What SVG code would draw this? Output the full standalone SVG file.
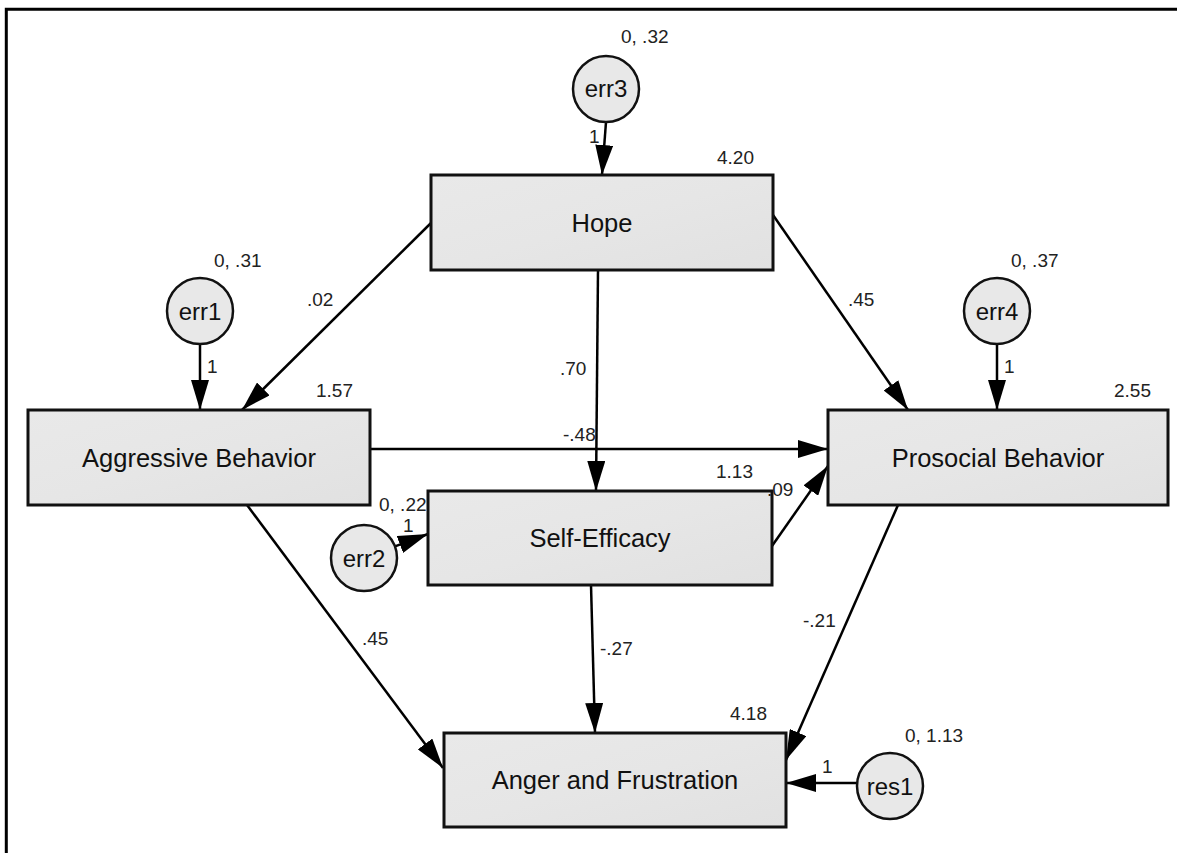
<svg xmlns="http://www.w3.org/2000/svg" width="1177" height="853" viewBox="0 0 1177 853">
  <defs>
    <linearGradient id="boxFill" x1="0" y1="0" x2="1" y2="1">
      <stop offset="0" stop-color="#e9e9e9"/>
      <stop offset="0.5" stop-color="#e6e6e6"/>
      <stop offset="1" stop-color="#e1e1e1"/>
    </linearGradient>
    <marker id="arrow" markerUnits="userSpaceOnUse" markerWidth="30" markerHeight="18" refX="30" refY="9" orient="auto" viewBox="0 0 30 18">
      <path d="M0,0 L30,9 L0,18 Z" fill="#000"/>
    </marker>
    <style>
      .box { fill: url(#boxFill); stroke: #111; stroke-width: 3; }
      .circ { fill: #e8e8e8; stroke: #111; stroke-width: 2.5; }
      .edge { stroke: #000; stroke-width: 2.5; fill: none; marker-end: url(#arrow); }
      .name { font-family: "Liberation Sans", Arial, sans-serif; font-size: 25.5px; fill: #111; text-anchor: middle; }
      .cname { font-family: "Liberation Sans", Arial, sans-serif; font-size: 24px; fill: #111; text-anchor: middle; }
      .lbl { font-family: "Liberation Sans", Arial, sans-serif; font-size: 19px; fill: #222; }
    </style>
  </defs>

  <rect width="1177" height="853" fill="#fff"/>
  <!-- frame -->
  <polyline points="6.3,853 6.3,9.3 1177,9.3" fill="none" stroke="#000" stroke-width="3"/>

  <!-- paths -->
  <g id="connectors">
    <line class="edge" x1="606" y1="122" x2="602" y2="175"/>
    <line class="edge" x1="200" y1="344" x2="200" y2="410"/>
    <line class="edge" x1="997" y1="344" x2="997" y2="410"/>
    <line class="edge" x1="395" y1="546.4" x2="428" y2="534"/>
    <line class="edge" x1="857" y1="783" x2="786" y2="783"/>
    <line class="edge" x1="431" y1="223" x2="242" y2="410"/>
    <line class="edge" x1="598" y1="270" x2="596" y2="491"/>
    <line class="edge" x1="773" y1="215" x2="908" y2="410"/>
    <line class="edge" x1="370" y1="449" x2="828" y2="449"/>
    <line class="edge" x1="772" y1="546" x2="828" y2="466"/>
    <line class="edge" x1="247" y1="505" x2="443" y2="768"/>
    <line class="edge" x1="591" y1="585" x2="595" y2="733"/>
    <line class="edge" x1="898" y1="505" x2="786" y2="760"/>
  </g>

  <!-- observed variables -->
  <g id="hope">
    <rect class="box" x="431" y="175" width="342" height="95"/>
    <text class="name" x="602" y="231.5">Hope</text>
    <text class="lbl" x="717" y="164">4.20</text>
  </g>
  <g id="aggressive">
    <rect class="box" x="28" y="410" width="342" height="95"/>
    <text class="name" x="199" y="466.5">Aggressive Behavior</text>
    <text class="lbl" x="316" y="397">1.57</text>
  </g>
  <g id="prosocial">
    <rect class="box" x="828" y="410" width="340" height="95"/>
    <text class="name" x="998" y="466.5">Prosocial Behavior</text>
    <text class="lbl" x="1114" y="397">2.55</text>
  </g>
  <g id="self-efficacy">
    <rect class="box" x="428" y="491" width="344" height="94"/>
    <text class="name" x="600" y="547">Self-Efficacy</text>
    <text class="lbl" x="716" y="478">1.13</text>
  </g>
  <g id="anger">
    <rect class="box" x="444" y="733" width="342" height="94"/>
    <text class="name" x="615" y="788.5">Anger and Frustration</text>
    <text class="lbl" x="730" y="720">4.18</text>
  </g>

  <!-- error terms -->
  <g id="err3">
    <circle class="circ" cx="606" cy="89" r="33"/>
    <text class="cname" x="606" y="97">err3</text>
    <text class="lbl" x="621" y="43">0, .32</text>
  </g>
  <g id="err1">
    <circle class="circ" cx="200" cy="311" r="33"/>
    <text class="cname" x="200" y="319.5">err1</text>
    <text class="lbl" x="214" y="267">0, .31</text>
  </g>
  <g id="err4">
    <circle class="circ" cx="997" cy="311" r="33"/>
    <text class="cname" x="997" y="319.5">err4</text>
    <text class="lbl" x="1011" y="267">0, .37</text>
  </g>
  <g id="err2">
    <circle class="circ" cx="364" cy="558" r="33"/>
    <text class="cname" x="364" y="566.5">err2</text>
    <text class="lbl" x="379" y="511">0, .22</text>
  </g>
  <g id="res1">
    <circle class="circ" cx="890" cy="786" r="33"/>
    <text class="cname" x="890" y="794.5">res1</text>
    <text class="lbl" x="905" y="742">0, 1.13</text>
  </g>

  <!-- path weights -->
  <g id="weights">
    <text class="lbl" x="589" y="143">1</text>
    <text class="lbl" x="207" y="373">1</text>
    <text class="lbl" x="1004" y="373">1</text>
    <text class="lbl" x="403" y="532">1</text>
    <text class="lbl" x="822" y="773">1</text>
    <text class="lbl" x="307" y="306">.02</text>
    <text class="lbl" x="560" y="375">.70</text>
    <text class="lbl" x="848" y="306">.45</text>
    <text class="lbl" x="563" y="441">-.48</text>
    <text class="lbl" x="767" y="496">.09</text>
    <text class="lbl" x="362" y="645">.45</text>
    <text class="lbl" x="600" y="655">-.27</text>
    <text class="lbl" x="803" y="627">-.21</text>
  </g>
</svg>
